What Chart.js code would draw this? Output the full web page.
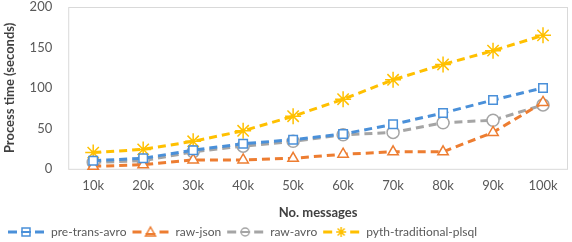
<!DOCTYPE html>
<html>
<head>
<meta charset="utf-8">
<script src="https://cdn.jsdelivr.net/npm/chart.js@4"></script>
<style>
  html, body { margin: 0; padding: 0; background: #fff; }
  #wrap { width: 572px; height: 242px; }
</style>
</head>
<body>
<div id="wrap"><canvas id="chart" width="572" height="242"></canvas></div>
<script>
"use strict";

// カテゴリ（メッセージ数）
const messages = ['10k', '20k', '30k', '40k', '50k', '60k', '70k', '80k', '90k', '100k'];
// 系列ごとの処理時間（秒）
const preTransAvro = [10, 13, 23, 31, 36, 43, 55, 69, 85, 100];
const rawJson = [3, 5, 11, 11, 13, 18, 21, 21, 45, 82];
const rawAvro = [8, 10, 21, 28, 34, 42, 45, 57, 60, 79];
const pythPlsql = [20, 24, 34, 47, 65, 86, 110, 129, 146, 165];
// Y軸の目盛り
const yTicks = [0, 50, 100, 150, 200];

const seriesNames = ['pre-trans-avro', 'raw-json', 'raw-avro', 'pyth-traditional-plsql'];
const seriesColors = ['#4a90d9', '#ed7d31', '#a5a5a5', '#ffc000'];
const seriesStyles = ['rect', 'triangle', 'circle', 'star'];

// 凡例用のアイコン（破線＋マーカー）を作る
function legendIcon(color, style) {
  const c = document.createElement('canvas');
  c.width = 38; c.height = 14;
  const g = c.getContext('2d');
  g.strokeStyle = color;
  g.lineWidth = 3;
  g.beginPath();
  g.moveTo(1, 7); g.lineTo(10, 7);
  g.moveTo(28, 7); g.lineTo(37, 7);
  g.stroke();
  g.lineWidth = 1.5;
  g.fillStyle = '#fff';
  g.beginPath();
  if (style === 'rect') {
    g.rect(15, 3, 8, 8);
    g.fill(); g.stroke();
    g.lineWidth = 2;
    g.beginPath(); g.moveTo(14, 7); g.lineTo(24, 7); g.stroke();
  } else if (style === 'triangle') {
    g.moveTo(19, 2); g.lineTo(24, 11); g.lineTo(14, 11); g.closePath();
    g.fill(); g.stroke();
    g.lineWidth = 2;
    g.beginPath(); g.moveTo(14, 9); g.lineTo(24, 9); g.stroke();
  } else if (style === 'circle') {
    g.arc(19, 7, 4, 0, Math.PI * 2);
    g.fill(); g.stroke();
    g.lineWidth = 2;
    g.beginPath(); g.moveTo(14, 7); g.lineTo(24, 7); g.stroke();
  } else {
    g.lineWidth = 1.5;
    g.moveTo(14, 7); g.lineTo(24, 7);
    g.moveTo(19, 2); g.lineTo(19, 12);
    g.moveTo(15.5, 3.5); g.lineTo(22.5, 10.5);
    g.moveTo(22.5, 3.5); g.lineTo(15.5, 10.5);
    g.stroke();
  }
  return c;
}

// プロット領域の枠線
const boxPlugin = {
  id: 'plotBox',
  beforeDatasetsDraw(chart) {
    const a = chart.chartArea;
    const ctx = chart.ctx;
    ctx.save();
    ctx.strokeStyle = '#d9d9d9';
    ctx.lineWidth = 1;
    ctx.strokeRect(a.left + 0.5, a.top + 0.5, a.right - a.left - 1, a.bottom - a.top);
    ctx.restore();
  }
};

const allValues = [preTransAvro, rawJson, rawAvro, pythPlsql];
const datasets = allValues.map(function (vals, i) {
  return {
    label: seriesNames[i],
    data: vals,
    borderColor: seriesColors[i],
    backgroundColor: '#ffffff',
    borderWidth: 3,
    borderDash: [8, 5],
    pointStyle: seriesStyles[i],
    pointRadius: seriesStyles[i] === 'star' ? 8 : 6,
    pointBorderWidth: 1.5,
    pointBorderColor: seriesColors[i],
    pointBackgroundColor: '#ffffff',
    tension: 0,
    fill: false,
    clip: false
  };
});

const tickFont = { family: 'Lato, "Open Sans", sans-serif', size: 13 };

new Chart(document.getElementById('chart').getContext('2d'), {
  type: 'line',
  data: { labels: messages, datasets: datasets },
  plugins: [boxPlugin],
  options: {
    responsive: false,
    animation: false,
    layout: { autoPadding: false, padding: { left: 2, right: 4, top: 0, bottom: -6 } },
    scales: {
      x: {
        offset: true,
        grid: { display: false },
        border: { display: false },
        ticks: { color: '#595959', font: tickFont, padding: 1 },
        title: {
          display: true,
          text: 'No. messages',
          color: '#404040',
          font: { family: 'Lato, "Open Sans", sans-serif', size: 13, weight: 'bold' },
          padding: { top: 11, bottom: 0 }
        }
      },
      y: {
        min: 0,
        max: 200,
        afterBuildTicks(axis) { axis.ticks = yTicks.map(v => ({ value: v })); },
        afterFit(axis) { axis.paddingTop = 7; },
        grid: { display: false },
        border: { display: false },
        ticks: { color: '#595959', font: tickFont, padding: 8 },
        title: {
          display: true,
          text: 'Process time (seconds)',
          color: '#404040',
          font: { family: 'Lato, "Open Sans", sans-serif', size: 13, weight: 'bold' },
          padding: { top: 0, bottom: 4 }
        }
      }
    },
    plugins: {
      legend: {
        position: 'bottom',
        align: 'start',
        labels: {
          usePointStyle: true,
          pointStyleWidth: 38,
          boxHeight: 12,
          padding: 5,
          color: '#595959',
          font: { family: 'Lato, "Open Sans", sans-serif', size: 12 },
          generateLabels(chart) {
            return chart.data.datasets.map(function (ds, i) {
              return {
                text: ds.label,
                pointStyle: legendIcon(seriesColors[i], seriesStyles[i]),
                fillStyle: '#fff',
                strokeStyle: seriesColors[i],
                lineWidth: 0,
                datasetIndex: i,
                hidden: false,
                fontColor: '#595959'
              };
            });
          }
        }
      },
      tooltip: { enabled: false }
    }
  }
});
</script>
</body>
</html>
